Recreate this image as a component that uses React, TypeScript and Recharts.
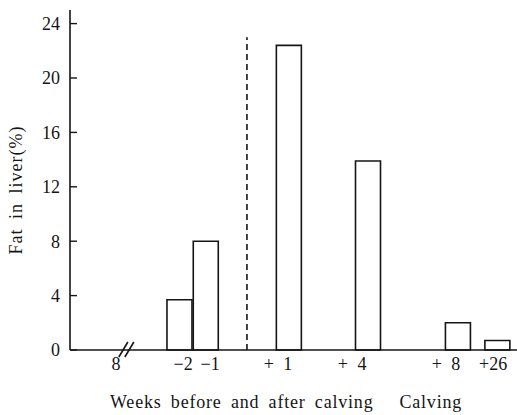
import { Bar, BarChart, Label, ReferenceDot, ReferenceLine, XAxis, YAxis } from 'recharts';

// x values are slots on the broken, uneven week axis of the original figure
const weekLabels = ['−2', '−1', '+1', '+4', '+8', '+26'];
const barSlots = [4.15, 5.15, 8.31, 11.32, 14.74, 16.24];
const fatInLiver = [3.7, 8.0, 22.4, 13.9, 2.0, 0.7];

const tickSlots = [1.75, 4.3, 5.33, 7.91, 10.73, 14.3, 16.09];
const tickLabels = ['8', '−2', '−1', '+ 1', '+ 4', '+ 8', '+26'];
const yTicks = [0, 4, 8, 12, 16, 20, 24];

const breakSlot = 2.2;
const calvingSlot = 6.73;
const calvingTop = 23;

const data = weekLabels.map((week, i) => ({ week, slot: barSlots[i], fat: fatInLiver[i] }));

const ink = '#151515';
const font = "'Liberation Serif', 'DejaVu Serif', serif";
const yTickGap = 10;

function AxisBreak(props: any) {
  const { cx, cy } = props;
  if (cx == null || cy == null) return null;
  return (
    <g stroke={ink} strokeWidth={1.6}>
      <line x1={cx - 9} y1={cy + 7} x2={cx} y2={cy - 8} />
      <line x1={cx - 3} y1={cy + 7} x2={cx + 6} y2={cy - 8} />
    </g>
  );
}

// ticks of the value axis point into the plot
function YTick(props: any) {
  const { x, y, payload } = props;
  const axisX = x + yTickGap;
  return (
    <g>
      <line x1={axisX} y1={y} x2={axisX + 7} y2={y} stroke={ink} strokeWidth={1.4} />
      <text
        x={x}
        y={y}
        dy='0.35em'
        textAnchor='end'
        fontSize={18}
        fontFamily={font}
        fill={ink}
      >
        {payload.value}
      </text>
    </g>
  );
}

function XTitle(props: any) {
  const { x, y } = props.viewBox;
  return (
    <text
      x={x + 40}
      y={y + 58}
      fontSize={18}
      fontFamily={font}
      fill={ink}
      style={{ letterSpacing: 0.8, wordSpacing: 4 }}
    >
      Weeks before and after calving
      <tspan dx={26}>Calving</tspan>
    </text>
  );
}

function YTitle(props: any) {
  const { x, y, height } = props.viewBox;
  const cx = x + 22;
  const cy = y + height / 2 + 10;
  return (
    <text
      x={cx}
      y={cy}
      transform={`rotate(-90 ${cx} ${cy})`}
      textAnchor='middle'
      fontSize={18}
      fontFamily={font}
      fill={ink}
      style={{ letterSpacing: 1, wordSpacing: 4 }}
    >
      Fat in liver(%)
    </text>
  );
}

export default function App() {
  return (
    <div style={{ position: 'absolute', left: 0, top: 0, background: '#fff' }}>
      <BarChart width={517} height={415} data={data} margin={{ top: 10, right: 0, bottom: 0, left: 0 }}>
        <XAxis
          dataKey='slot'
          type='number'
          domain={[0, 17]}
          ticks={tickSlots}
          interval={0}
          tickFormatter={(v: number) => tickLabels[tickSlots.indexOf(v)] ?? ''}
          tickLine={false}
          tickSize={0}
          tickMargin={7}
          height={65}
          axisLine={{ stroke: ink, strokeWidth: 1.6 }}
          tick={{ fill: ink, fontSize: 18, fontFamily: font, style: { wordSpacing: 5 } }}
        >
          <Label content={<XTitle />} />
        </XAxis>
        <YAxis
          type='number'
          domain={[0, 25]}
          ticks={yTicks}
          interval={0}
          width={70}
          tickLine={false}
          tickSize={0}
          tickMargin={yTickGap}
          axisLine={{ stroke: ink, strokeWidth: 1.6 }}
          tick={<YTick />}
        >
          <Label content={<YTitle />} />
        </YAxis>
        <ReferenceLine
          segment={[
            { x: calvingSlot, y: 0 },
            { x: calvingSlot, y: calvingTop },
          ]}
          stroke={ink}
          strokeWidth={1.6}
          strokeDasharray='6 4'
        />
        <Bar
          dataKey='fat'
          barSize={25}
          fill='#fff'
          stroke={ink}
          strokeWidth={1.6}
          isAnimationActive={false}
        />
        <ReferenceDot x={breakSlot} y={0} shape={<AxisBreak />} />
      </BarChart>
    </div>
  );
}
